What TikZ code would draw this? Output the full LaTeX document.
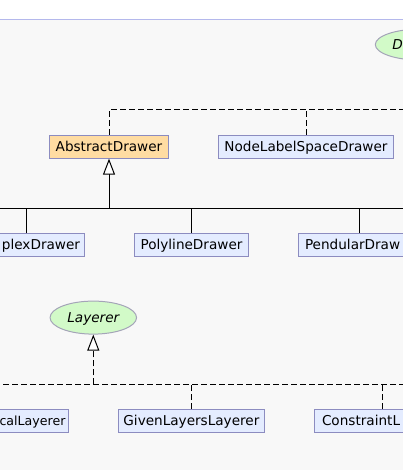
\documentclass[tikz,border=0pt]{standalone}
\usepackage{fontspec}
\setmainfont{DejaVu Sans}
\usetikzlibrary{arrows.meta,shapes.geometric}

\definecolor{bgfill}{HTML}{F8F8F8}
\definecolor{bgline}{HTML}{B4B8EC}
\definecolor{clsfill}{HTML}{E4ECFF}
\definecolor{absfill}{HTML}{FFDCA2}
\definecolor{clsline}{HTML}{8C8CC0}
\definecolor{ifacefill}{HTML}{D2FAC8}
\definecolor{ifaceline}{HTML}{A4A4B8}

\begin{document}
\begin{tikzpicture}[x=1pt,y=-1pt,
    cls/.style={draw=clsline, fill=clsfill, line width=1pt, minimum height=22.8pt,
      inner xsep=4.5pt, inner ysep=0pt, text height=10.1pt, text depth=0pt,
      font=\fontsize{13.6}{16}\selectfont},
    abs/.style={cls, fill=absfill},
    iface/.style={ellipse, draw=ifaceline, fill=ifacefill, line width=1pt, inner sep=0pt,
      text height=10.1pt, text depth=0pt, font=\fontsize{13.6}{16}\selectfont\itshape},
    implline/.style={line width=1pt, dash pattern=on 6pt off 3pt},
    inh/.style={-{Triangle[length=16pt, width=12pt, fill=white]}, line width=1pt}]
  \useasboundingbox (0,0) rectangle (403,470);
  \clip (0,0) rectangle (403,470);
  \fill[bgfill] (0,19.5) rectangle (403,470);
  \draw[bgline, line width=1pt] (0,19.5) -- (403,19.5);

  % interfaces
  \node[iface, minimum width=90pt, minimum height=31pt, text width=56pt, align=left] (drawer) at (420.3,44.6) {D};
  \node[iface, minimum width=86.5pt, minimum height=33pt] (layerer) at (93.3,317.6) {Layerer};

  % drawers
  \node[abs, minimum width=119pt] (abstract) at (109,146.75) {AbstractDrawer};
  \node[cls, minimum width=175pt] (nlsd) at (306,146.75) {NodeLabelSpaceDrawer};
  \node[cls, minimum width=117pt, text width=108pt, align=right] (simplex) at (26,244.9) {plexDrawer};
  \node[cls, minimum width=114pt] (polyline) at (191.5,244.9) {PolylineDrawer};
  \node[cls, minimum width=121pt, text width=108pt, align=left] (pendular) at (359,244.9) {PendularDraw};

  % layerers
  \node[cls, minimum width=160pt, text width=154pt, inner xsep=3pt, align=right,
    font=\fontsize{12.6}{16}\selectfont] (topological) at (-11.5,420.9) {calLayerer};
  \node[cls, minimum width=146pt] (given) at (191.4,420.9) {GivenLayersLayerer};
  \node[cls, minimum width=136pt, text width=120pt, align=left] (constraint) at (382,420.9) {ConstraintL};

  % Drawer implementations
  \coordinate (dbusR) at (500,110);
  \draw[implline] (abstract.north) |- (dbusR);
  \draw[implline] (nlsd.north) -- (nlsd.north |- dbusR);
  \draw[implline, inh] (drawer.south |- dbusR) -- (drawer.south);

  % AbstractDrawer subclasses
  \coordinate (busL) at (-60,208);
  \coordinate (busR) at (500,208);
  \draw[line width=1pt] (busL) -- (busR);
  \foreach \n in {simplex,polyline,pendular}
    \draw[line width=1pt] (\n.north) -- (\n.north |- busL);
  \draw[inh] (abstract.south |- busL) -- (abstract.south);

  % Layerer implementations
  \coordinate (lbusL) at (-60,384.3);
  \coordinate (lbusR) at (500,384.3);
  \draw[implline] (lbusL) -- (lbusR);
  \foreach \n in {topological,given,constraint}
    \draw[implline] (\n.north) -- (\n.north |- lbusL);
  \draw[implline, inh] (layerer.south |- lbusL) -- (layerer.south);
\end{tikzpicture}
\end{document}
